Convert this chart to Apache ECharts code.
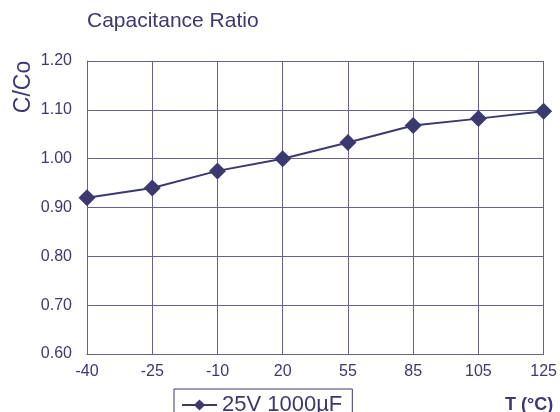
<!DOCTYPE html>
<html>
<head>
<meta charset="utf-8">
<script src="https://cdn.jsdelivr.net/npm/echarts@6/dist/echarts.min.js"></script>
<style>html,body{margin:0;padding:0;background:#fff}#c{width:560px;height:412px}</style>
</head>
<body>
<div id="c"></div>
<script>
const categories = ['-40', '-25', '-10', '20', '55', '85', '105', '125'];
const seriesName = '25V 1000µF';
const ratioValues = [0.92, 0.94, 0.975, 1.00, 1.033, 1.068, 1.082, 1.097];
const yMin = 0.6, yMax = 1.2, yStep = 0.1;

const ink = '#3c3870';
const gridInk = '#65628f';
const font = 'Liberation Sans, Arial, sans-serif';

const chart = echarts.init(document.getElementById('c'));
chart.setOption({
  animation: false,
  backgroundColor: '#ffffff',
  title: [
    { text: 'Capacitance Ratio', left: 87, top: 11, padding: 0,
      textStyle: { color: ink, fontFamily: font, fontSize: 21, fontWeight: 'normal' } },
    { text: 'T (°C)', left: 505, top: 396, padding: 0,
      textStyle: { color: ink, fontFamily: font, fontSize: 18, fontWeight: 'bold' } }
  ],
  graphic: [
    { type: 'text', x: 24, y: 87, rotation: Math.PI / 2,
      style: { text: 'C/Co', fill: ink, font: '23px ' + font, align: 'center', verticalAlign: 'middle' } }
  ],
  legend: {
    left: 174, top: 389,
    padding: [5, 10, 10, 7],
    itemWidth: 35, itemHeight: 14, itemGap: 10,
    borderColor: ink, borderWidth: 1,
    textStyle: { color: ink, fontFamily: font, fontSize: 22 },
    data: [seriesName]
  },
  grid: { left: 87, right: 12, top: 61, bottom: 58, containLabel: false },
  xAxis: {
    type: 'category', data: categories, boundaryGap: false,
    axisLine: { show: true, lineStyle: { color: gridInk, width: 1 } },
    axisTick: { show: false },
    axisLabel: { color: ink, fontFamily: font, fontSize: 16, margin: 10, interval: 0 },
    splitLine: { show: true, lineStyle: { color: gridInk, width: 1 } }
  },
  yAxis: {
    type: 'value', min: yMin, max: yMax, interval: yStep,
    axisLine: { show: true, lineStyle: { color: gridInk, width: 1 } },
    axisTick: { show: false },
    axisLabel: { color: ink, fontFamily: font, fontSize: 16, margin: 15,
      formatter: v => v.toFixed(2) },
    splitLine: { show: true, lineStyle: { color: gridInk, width: 1 } }
  },
  series: [{
    name: seriesName, type: 'line', data: ratioValues,
    symbol: 'diamond', symbolSize: 17,
    lineStyle: { color: ink, width: 2 },
    itemStyle: { color: ink },
    z: 5
  }]
});
</script>
</body>
</html>
